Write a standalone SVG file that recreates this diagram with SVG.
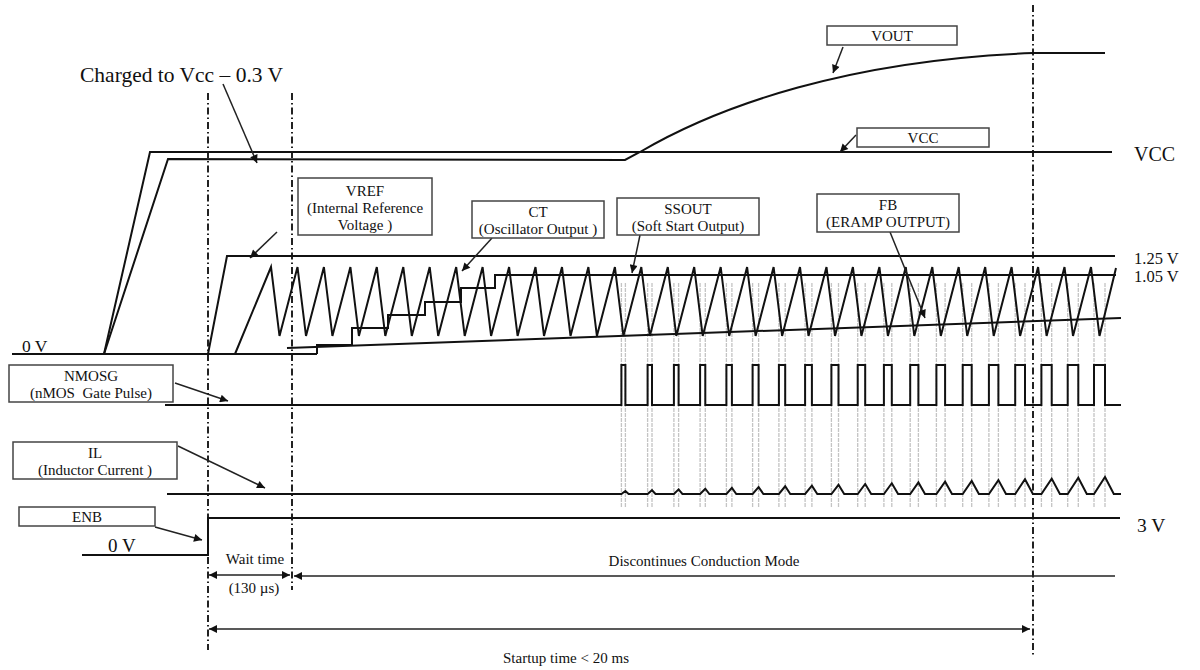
<svg xmlns="http://www.w3.org/2000/svg" width="1200" height="670" viewBox="0 0 1200 670">
<defs>
<style>
.sig{fill:none;stroke:#111;stroke-width:2;stroke-linejoin:miter}
.dash{fill:none;stroke:#222;stroke-width:2;stroke-dasharray:7 3 1.5 3}
.box{fill:#fff;stroke:#444;stroke-width:1.5}
.t{font-family:"Liberation Serif","Times New Roman",serif;font-size:15px;fill:#111;text-anchor:middle;white-space:pre}
.lbl{font-family:"Liberation Serif","Times New Roman",serif;fill:#111}
.arr{fill:none;stroke:#222;stroke-width:1.5}
.gray{fill:none;stroke:#c4c4c4;stroke-width:1.3;stroke-dasharray:4 1}
</style>
<marker id="ah" viewBox="0 0 10 10" refX="10" refY="5" markerWidth="11" markerHeight="8" markerUnits="userSpaceOnUse" orient="auto-start-reverse">
<path d="M0,0 L10,5 L0,10 z" fill="#111"/>
</marker>
</defs>
<rect width="1200" height="670" fill="#fff"/>

<!-- gray pulse edge lines -->
<g id="pulse-edges" class="gray">
<path d="M621.4,283V508M625.4,283V508M647.6,283V508M652,283V508M673.9,283V508M678.6,283V508M700.1,283V508M705.3,283V508M726.4,283V508M731.9,283V508M752.6,283V508M758.6,283V508M778.9,283V508M785.2,283V508M805.1,283V508M811.9,283V508M831.4,283V508M838.5,283V508M857.7,283V508M865.2,283V508M883.9,283V508M891.8,283V508M910.2,283V508M918.4,283V508M936.4,283V508M945.1,283V508M962.7,283V508M971.7,283V508M988.9,283V508M998.4,283V508M1015.2,283V508M1025,283V508M1041.4,283V508M1051.7,283V508M1067.7,283V508M1078.3,283V508M1094,283V508M1105,283V508"/>
</g>

<!-- dashed time markers -->
<g id="markers">
<line class="dash" x1="208" y1="93" x2="208" y2="650"/>
<line class="dash" x1="292" y1="93" x2="292" y2="590"/>
<line class="dash" x1="1033" y1="5" x2="1033" y2="657"/>
</g>

<!-- signals -->
<g id="signals">
<path id="vcc" class="sig" d="M104,354 L150,152 H1112"/>
<path id="vout" class="sig" d="M104,354 L168,159 L625,160 L640,152 C720,105 850,60 1033,53 H1105"/>
<path id="baseline0" class="sig" d="M12,354 H317"/>
<path id="vref" class="sig" d="M208,354 L227,256 H1115"/>
<path id="ssout" class="sig" d="M317,354 V345 H352 V328 H388 V315 H425 V302 H461 V288 H495 V275 H1116"/>
<path id="fb" class="sig" d="M287,348 L1121,318"/>
<path id="ct" class="sig" d="M235,354 L271,267 L279.5,336 L297.5,267 L306,336 L323.9,267 L332.4,336 L350.4,267 L358.9,336 L376.8,267 L385.3,336 L403.3,267 L411.8,336 L429.7,267 L438.2,336 L456.2,267 L464.7,336 L482.6,267 L491.1,336 L509.1,267 L517.6,336 L535.5,267 L544,336 L562,267 L570.5,336 L588.4,267 L596.9,336 L614.9,267 L623.4,336 L641.3,267 L649.8,336 L667.8,267 L676.3,336 L694.2,267 L702.7,336 L720.7,267 L729.2,336 L747.1,267 L755.6,336 L773.6,267 L782.1,336 L800,267 L808.5,336 L826.5,267 L835,336 L852.9,267 L861.4,336 L879.4,267 L887.9,336 L905.8,267 L914.3,336 L932.3,267 L940.8,336 L958.7,267 L967.2,336 L985.2,267 L993.7,336 L1011.6,267 L1020.1,336 L1038.1,267 L1046.6,336 L1064.5,267 L1073,336 L1091,267 L1099.5,336 L1116,268"/>
<path id="nmosg" class="sig" d="M165,405 H621.4 V365 H625.4 V405 H647.6 V365 H652 V405 H673.9 V365 H678.6 V405 H700.1 V365 H705.3 V405 H726.4 V365 H731.9 V405 H752.6 V365 H758.6 V405 H778.9 V365 H785.2 V405 H805.1 V365 H811.9 V405 H831.4 V365 H838.5 V405 H857.7 V365 H865.2 V405 H883.9 V365 H891.8 V405 H910.2 V365 H918.4 V405 H936.4 V365 H945.1 V405 H962.7 V365 H971.7 V405 H988.9 V365 H998.4 V405 H1015.2 V365 H1025 V405 H1041.4 V365 H1051.7 V405 H1067.7 V365 H1078.3 V405 H1094 V365 H1105 V405 H1121"/>
<path id="il" class="sig" d="M167,494 H621.4 L625.4,491 L628.6,494 H647.6 L652,490.2 L655.5,494 H673.9 L678.6,489.4 L682.4,494 H700.1 L705.3,488.7 L709.4,494 H726.4 L731.9,487.9 L736.3,494 H752.6 L758.6,487.1 L763.4,494 H778.9 L785.2,486.3 L790.3,494 H805.1 L811.9,485.6 L817.3,494 H831.4 L838.5,484.8 L844.2,494 H857.7 L865.2,484 L871.2,494 H883.9 L891.8,483.2 L898.1,494 H910.2 L918.4,482.4 L925,494 H936.4 L945.1,481.7 L952,494 H962.7 L971.7,480.9 L978.9,494 H988.9 L998.4,480.1 L1006,494 H1015.2 L1025,479.3 L1032.9,494 H1041.4 L1051.7,478.6 L1059.9,494 H1067.7 L1078.3,477.8 L1086.8,494 H1094 L1105,477 L1113.8,494 H1121"/>
<path id="enb" class="sig" d="M82,555 H208 V518 H1120"/>
</g>

<!-- connectors -->
<g id="connectors" class="arr">
<line x1="223" y1="84" x2="257" y2="163" marker-end="url(#ah)"/>
<line x1="843" y1="47" x2="833" y2="73" marker-end="url(#ah)"/>
<line x1="856" y1="135" x2="840" y2="152" marker-end="url(#ah)"/>
<line x1="277" y1="232" x2="250" y2="258" marker-end="url(#ah)"/>
<line x1="492" y1="238" x2="462" y2="271" marker-end="url(#ah)"/>
<line x1="640" y1="235" x2="632" y2="273" marker-end="url(#ah)"/>
<line x1="890" y1="232" x2="925" y2="318" marker-end="url(#ah)"/>
<line x1="175" y1="383" x2="228" y2="401" marker-end="url(#ah)"/>
<line x1="178" y1="446" x2="265" y2="488" marker-end="url(#ah)"/>
<line x1="155" y1="527" x2="202" y2="540" marker-end="url(#ah)"/>
<line x1="209" y1="575" x2="290" y2="575" marker-start="url(#ah)" marker-end="url(#ah)"/>
<line x1="294" y1="576" x2="1115" y2="576" marker-start="url(#ah)"/>
<line x1="209" y1="629" x2="1030" y2="629" marker-start="url(#ah)" marker-end="url(#ah)"/>
</g>

<!-- labels -->
<g id="label-charged"><text class="lbl" x="80" y="82" font-size="21.5">Charged to Vcc – 0.3 V</text></g>
<g id="label-vcc-axis"><text class="lbl" x="1134" y="161" font-size="20">VCC</text></g>
<g id="label-125"><text class="lbl" x="1134" y="264" font-size="16.5">1.25 V</text></g>
<g id="label-105"><text class="lbl" x="1134" y="282" font-size="16.5">1.05 V</text></g>
<g id="label-0v-top"><text class="lbl" x="22" y="352" font-size="17.5">0 V</text></g>
<g id="label-0v-bot"><text class="lbl" x="108" y="552" font-size="19">0 V</text></g>
<g id="label-3v"><text class="lbl" x="1137" y="532" font-size="19.5">3 V</text></g>

<g id="node-vout"><rect class="box" x="827" y="26" width="130" height="19"/><text class="t" x="892" y="41">VOUT</text></g>
<g id="node-vcc"><rect class="box" x="857" y="128" width="132" height="19"/><text class="t" x="923" y="143">VCC</text></g>
<g id="node-vref"><rect class="box" x="298" y="178" width="134" height="57"/><text class="t" x="365" y="196">VREF</text><text class="t" x="365" y="213">(Internal Reference</text><text class="t" x="365" y="230">Voltage )</text></g>
<g id="node-ct"><rect class="box" x="472" y="201" width="132" height="37"/><text class="t" x="538" y="217">CT</text><text class="t" x="538" y="234">(Oscillator Output )</text></g>
<g id="node-ssout"><rect class="box" x="617" y="198" width="142" height="37"/><text class="t" x="688" y="214">SSOUT</text><text class="t" x="688" y="231">(Soft Start Output)</text></g>
<g id="node-fb"><rect class="box" x="817" y="194" width="142" height="38"/><text class="t" x="888" y="210">FB</text><text class="t" x="888" y="227">(ERAMP OUTPUT)</text></g>
<g id="node-nmosg"><rect class="box" x="9" y="365" width="164" height="37"/><text class="t" x="91" y="381">NMOSG</text><text class="t" x="91" y="398">(nMOS  Gate Pulse)</text></g>
<g id="node-il"><rect class="box" x="13" y="442" width="164" height="37"/><text class="t" x="95" y="458">IL</text><text class="t" x="95" y="475">(Inductor Current )</text></g>
<g id="node-enb"><rect class="box" x="19" y="507" width="136" height="19"/><text class="t" x="87" y="522">ENB</text></g>

<g id="label-wait"><text class="t" x="255" y="564" font-size="14.5">Wait time</text><text class="t" x="254" y="593">(130 µs)</text></g>
<g id="label-dcm"><text class="t" x="704" y="566">Discontinues Conduction Mode</text></g>
<g id="label-startup"><text class="t" x="566" y="663">Startup time &lt; 20 ms</text></g>
</svg>
